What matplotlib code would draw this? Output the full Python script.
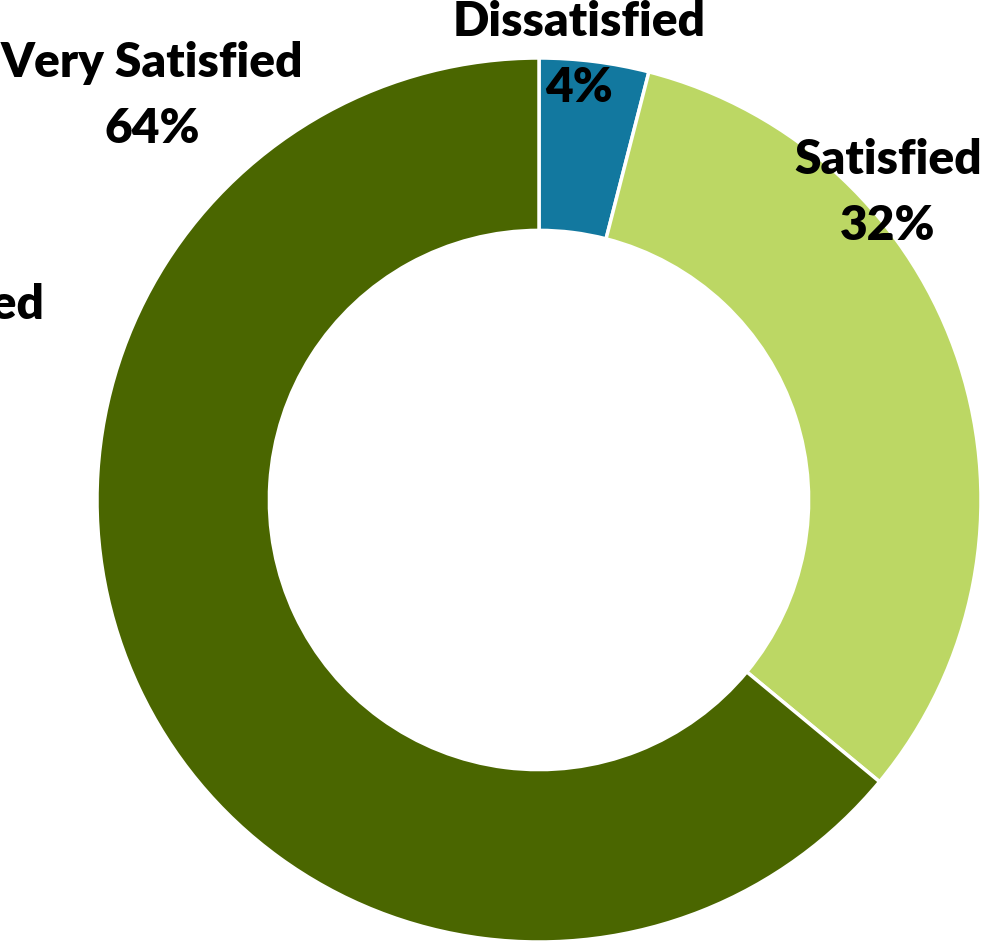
import matplotlib
matplotlib.use('Agg')
import matplotlib.pyplot as plt

labels = ['Dissatisfied', 'Satisfied', 'Very Satisfied']
shares = [4, 32, 64]
colors = ['#12789f', '#bcd764', '#4a6600']

# label anchors (pixels from the top-left corner)
label_pos = {
    'Dissatisfied': (579, 22),
    'Satisfied': (888, 160),
    'Very Satisfied': (152, 63),
}

W, H = 986, 944
fig = plt.figure(figsize=(W / 100, H / 100), dpi=100)
ax = fig.add_axes([0, 0, 1, 1])

radius = 442
ax.pie(shares, colors=colors, startangle=90, counterclock=False,
       center=(539, H - 500), radius=radius, frame=True,
       wedgeprops=dict(width=radius * 0.39, edgecolor='white', linewidth=2.5))
ax.set_xlim(0, W)
ax.set_ylim(0, H)
ax.set_aspect('equal')
ax.axis('off')

font = dict(family='Lato', fontweight='heavy', fontsize=34.5, color='black')
for lab, val in zip(labels, shares):
    x, y = label_pos[lab]
    ax.text(x, H - y, lab, ha='center', va='center', **font)
    ax.text(x, H - y - 66, f'{val}%', ha='center', va='center', **font)

# the empty category's label sits mostly off the left edge
ax.text(45, H - 305, 'Very Dissatisfied', ha='right', va='center', **font)

fig.savefig('out.png', dpi=100)
